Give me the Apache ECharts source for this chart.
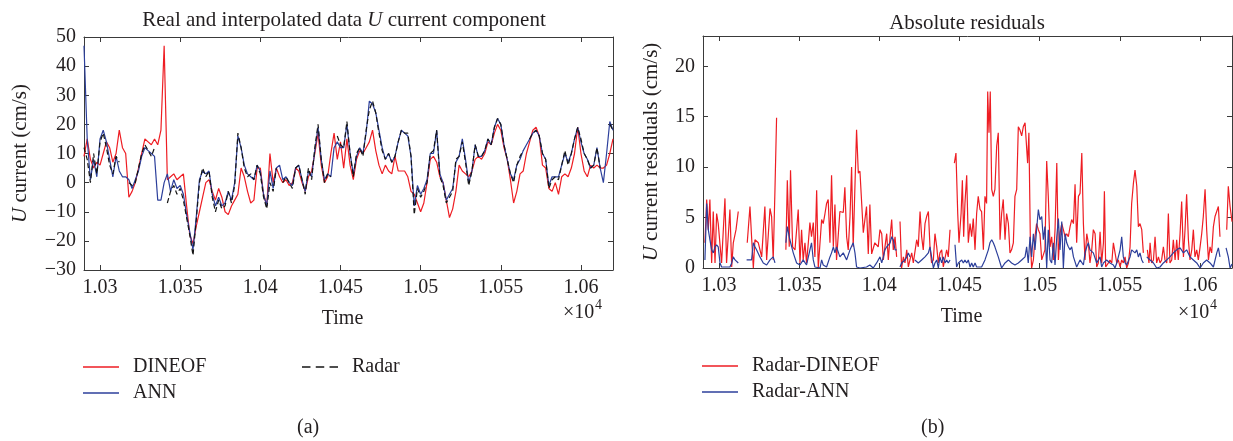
<!DOCTYPE html>
<html>
<head>
<meta charset="utf-8">
<title>U current component</title>
<script src="https://cdn.jsdelivr.net/npm/echarts@6/dist/echarts.min.js"></script>
<style>
  html, body { margin: 0; padding: 0; background: #ffffff; }
  #chart { width: 1233px; height: 441px; }
</style>
</head>
<body>
<div id="chart"></div>
<script>
// Sampling of the left panel: one value every 2 time units from T_START
const T_START = 10290;
const T_STEP = 2;
const T_MIN = 10290;
const T_MAX = 10620;

const xTickValues = [10300, 10350, 10400, 10450, 10500, 10550, 10600];
const xTickLabels = ['1.03', '1.035', '1.04', '1.045', '1.05', '1.055', '1.06'];

// U current (cm/s); null = radar gap
const radar = [
  12, 8, 0, 10, 3, 14, 17, 12, 6, 3, 9, 7, null, null, 0, -1, 0, 5, 10, 13,
  11, 9, 12, null, null, null, -7, -3, -1, -4, -2, -6, -12, -18, -25, -13, 0, 5, 2, 4,
  -5, -10, -6, -9, -8, -3, -7, -1, 17, 12, 5, 2, 3, 1, 6, 3, -5, -9, 0, -3,
  5, null, 0, 2, 0, -2, 5, 6, 1, -4, 5, 1, 12, 20, 8, 0, 3, 2, null, 16,
  13, 12, 21, 10, 2, 10, 12, 9, 18, 25, 28, 24, 17, 11, 8, 10, 7, 9, 14, 18,
  17, 17, 9, -11, -2, -5, -3, 0, 10, 11, 18, 2, -1, -7, -5, -3, 8, 9, 14, 7,
  -1, 4, 13, 9, 9, 11, 15, 13, 19, 22, 20, 13, 8, 3, 0, 6, 9, 11, null, 15,
  17, 18, 16, 10, 8, -2, 1, 2, 1, 6, 11, 6, 10, 15, 19, 15, 10, 8, 5, 6,
  12, 5, null, null, 20, 18
];
const ann = [
  47, 15, 1, 8, 2, 15, 18, 14, 8, 2, 9, 4, 2, 2, 1, -2, 1, 4, 9, 12,
  11, 10, 9, -6, -6, 0, 3, -3, 1, -2, -1, -4, -11, -17, -23, -12, 1, 4, 3, 4,
  -4, -8, -5, -8, -7, -3, -6, 0, 16, 12, 6, 3, 2, 1, 6, 4, -4, -8, 4, -2,
  5, 6, 1, 2, 0, -1, 5, 6, 1, -3, 4, 2, 11, 19, 8, 1, 3, 2, 12, 14,
  12, 12, 20, 10, 3, 9, 12, 10, 17, 28, 27, 24, 18, 12, 8, 10, 7, 9, 14, 18,
  17, 16, 9, -8, -1, -4, -2, 1, 10, 10, 18, 3, 0, -6, -4, -2, 7, 9, 15, 8,
  0, 4, 13, 9, 9, 11, 15, 13, 19, 22, 20, 13, 8, 3, 1, 6, 8, 11, 13, 15,
  17, 18, 16, 10, 8, -1, 2, 2, 2, 6, 10, 7, 10, 15, 19, 14, 10, 8, 5, 6,
  12, 5, 0, 10, 21, 18
];
const dineof = [
  9, 15, 8, 5, 7, 6, 10, 14, 12, 7, 10, 18, 12, 10, -5, -3, 0, 5, 10, 15,
  14, 13, 15, 13, 18, 47, 1, 2, 3, 1, 2, 3, -8, -18, -21, -15, -10, -5, 0, 1,
  -3, -6, -2, -5, -10, -11, -8, -6, -4, 5, 2, -3, -7, -6, 5, 5, -4, -8, 10, 0,
  5, 2, 0, 1, -1, 0, 5, 4, 0, -3, 2, 4, 10, 17, 6, 0, 2, 10, 17, 8,
  14, 5, 15, 6, 1, 8, 11, 10, 12, 14, 18, 11, 6, 3, 6, 4, 3, 9, 4, 4,
  4, 2, -3, -4, -7, -10, -7, 0, 8, 9, 7, 2, 0, -6, -12, -9, -3, 6, 4, 3,
  2, 4, 8, 9, 8, 10, 14, 13, 17, 20, 18, 12, 8, 1, -7, -3, 3, 4, 10, 14,
  18, 19, 16, 6, 5, -2, -3, 0, -4, 2, 3, 2, 5, 10, 19, 10, 4, 2, 6, 5,
  6, 5, 5, 6, 10, 15
];

// Absolute residuals (cm/s) as [time, value]; null = no radar data
const resDineof = [
  [10291.2, 2.5], [10292.3, 6.8], [10293.3, 3.8], [10294.3, 6.8], [10295.4, 0.5], [10296.4, 5.6],
  [10297.5, 0.5], [10298.5, 5.4], [10299.5, 4.4], [10300.6, 4.4], [10301.6, 0.5], [10303.7, 6.9],
  [10304.7, 0.5], [10306.8, 5.8], [10307.9, 0.1], [10308.9, 2.5], [10310.6, 3.8], [10312.0, 5.6],
  [10314.5, null],
  [10317.6, 2.5], [10319.3, 6.1], [10320.3, 3.1], [10321.4, 0], [10322.4, 2.8], [10324.5, 2.5],
  [10326.6, 1.1], [10328.6, 6.1], [10329.7, 0.8], [10331.8, 5.9], [10332.8, 5.1], [10333.8, 0.8],
  [10334.9, 7.8], [10335.9, 14.9],
  [10339.0, null],
  [10341.7, 1.8], [10342.6, 8.7], [10343.8, 2.1], [10344.6, 9.7], [10345.9, 2.1], [10347.4, 1.8],
  [10349.4, 5.8], [10350.5, 0.5], [10351.5, 3.8], [10352.5, 0.8], [10353.6, 2.5], [10354.6, 0.5],
  [10355.7, 2.5], [10356.7, 4.5], [10357.7, 3.1], [10358.8, 4.5], [10359.8, 1.1], [10360.9, 7.7],
  [10361.9, 0], [10364.0, 4.8], [10365.0, 4.4], [10366.1, 5.4], [10367.1, 6.4], [10368.1, 6.8],
  [10369.2, 2.5], [10370.2, 9.2], [10371.3, 2.1], [10372.3, 6.3], [10373.3, 0.8], [10374.4, 0.8],
  [10375.4, 5.6], [10377.5, 5.5], [10378.5, 8.0], [10379.6, 3.1], [10380.6, 1.8], [10381.7, 5.1],
  [10382.7, 10.0], [10383.7, 2.1], [10385.8, 13.7], [10386.9, 9.4], [10387.9, 9.6], [10390.0, 3.5],
  [10391.0, 3.6], [10392.0, 6.1], [10393.1, 1.4], [10394.1, 6.3], [10395.2, 1.4], [10397.2, 2.5],
  [10399.3, 2.1], [10400.4, 3.8], [10401.5, 3.4], [10402.5, 0.8], [10403.5, 2.1], [10404.6, 3.4],
  [10405.6, 0.8], [10406.7, 3.1], [10407.7, 4.8], [10408.7, 1.8], [10409.8, 3.1], [10410.8, 1.1],
  [10411.8, null],
  [10412.9, 4.6], [10413.9, 0], [10415.0, 1.1], [10416.0, 0.5], [10417.1, 1.8], [10418.1, 0.1],
  [10419.1, 0.8], [10420.2, 1.5], [10421.2, 0.5], [10422.2, 0.5], [10423.3, 2.8], [10424.3, 2.1],
  [10425.4, 5.6], [10426.4, 3.1], [10427.4, 1.8], [10428.5, 4.4], [10429.5, 5.1], [10430.6, 5.6],
  [10431.6, 2.1], [10432.6, 0.5], [10433.7, 0.8], [10434.7, 3.4], [10435.8, 2.1], [10436.8, 0.5],
  [10437.8, 1.5], [10438.9, 1.8], [10439.9, 0.1], [10441.0, 0], [10442.0, 1.8], [10443.0, 1.1],
  [10444.1, 3.8],
  [10445.5, null],
  [10446.8, 10.4], [10447.8, 11.4], [10448.9, 5.4], [10449.7, 2.5], [10451.0, 5.4], [10451.8, 8.7],
  [10452.6, 3.1], [10453.4, 6.4], [10454.5, 9.2], [10455.5, 2.5], [10456.6, 4.4], [10457.6, 3.1],
  [10458.6, 4.9], [10459.7, 1.8], [10460.7, 5.4], [10461.7, 7.1], [10462.8, 5.8], [10463.8, 5.6],
  [10464.9, 1.8], [10465.9, 7.1], [10466.9, 6.4], [10467.6, 17.5], [10468.4, 13.4], [10469.2, 17.5],
  [10470.1, 7.8], [10471.1, 7.1], [10472.1, 7.8], [10473.2, 12.1], [10474.2, 13.4], [10475.3, 2.8],
  [10476.3, 5.4], [10477.3, 6.8], [10478.4, 2.8], [10479.4, 5.4], [10480.5, 4.4], [10481.5, 1.5],
  [10482.5, 1.8], [10483.6, 2.5], [10484.6, 7.1], [10485.7, 7.8], [10486.7, 14.0], [10487.7, 13.7],
  [10488.8, 13.1], [10489.8, 14.0], [10490.9, 14.4], [10491.9, 14.4], [10492.5, 10.4], [10493.3, 13.4],
  [10494.2, 2.8], [10495.0, 0], [10496.1, 0.8], [10497.1, 3.1], [10498.1, 4.4], [10499.2, 3.8],
  [10500.2, 3.4], [10501.3, 0.8], [10502.3, 0.8], [10503.3, 1.8], [10504.4, 10.6], [10505.4, 7.1],
  [10506.5, 2.1], [10507.5, 3.1], [10508.6, 0.8], [10509.6, 3.8], [10510.7, 10.4], [10511.7, 0.8],
  [10512.7, 3.4], [10513.8, 4.4], [10514.8, 3.8], [10515.9, 3.1], [10516.9, 3.4], [10517.9, 3.1],
  [10519.0, 4.1], [10520.0, 4.8], [10521.1, 4.4], [10522.1, 8.3], [10523.1, 2.5], [10524.2, 7.1],
  [10525.2, 7.4], [10526.3, 11.4], [10527.3, 4.4], [10528.3, 0.8], [10529.4, 3.4], [10530.4, 2.5],
  [10531.4, 0.5], [10532.5, 1.8], [10533.5, 3.8], [10534.6, 3.4], [10535.6, 0.1], [10536.6, 0.5],
  [10537.7, 3.6], [10538.7, 0.5], [10539.8, 2.5], [10540.4, 7.6], [10541.2, 0.1], [10542.9, 0.5],
  [10543.9, 0.8], [10545.0, 0.5], [10546.0, 2.5], [10547.0, 2.5], [10548.1, 0.5], [10549.1, 0.8],
  [10550.2, 0.1], [10551.2, 0.8], [10552.2, 0.5], [10553.3, 1.1], [10554.3, 0], [10555.4, 0.5],
  [10556.4, 2.1], [10557.4, 6.4], [10558.5, 8.4], [10559.5, 9.7], [10560.6, 8.1], [10561.6, 4.1],
  [10562.6, 4.4], [10563.7, 3.8], [10564.7, 1.5],
  [10565.8, null],
  [10567.2, 1.8], [10568.2, 0.5], [10568.9, 2.5], [10569.9, 0.5], [10571.0, 0.8], [10572.0, 3.1],
  [10573.0, 0.5], [10574.1, 1.1], [10575.1, 0.5], [10576.1, 0.8], [10577.2, 2.1], [10578.2, 0.8],
  [10579.3, 0.5], [10580.3, 5.4], [10581.3, 0.5], [10582.4, 0.8], [10583.4, 2.8], [10584.5, 0.8],
  [10585.5, 2.8], [10586.5, 0.8], [10587.6, 3.4], [10588.6, 6.6], [10589.7, 1.1], [10590.7, 3.8],
  [10591.7, 7.3], [10592.8, 2.8], [10593.8, 0.8], [10594.9, 1.8], [10595.9, 3.8], [10596.9, 1.1],
  [10598.0, 1.8], [10599.0, 0.8], [10600.1, 2.1], [10601.1, 3.4], [10602.1, 5.1], [10603.2, 7.8],
  [10604.2, 3.8], [10605.3, 0.8], [10606.3, 2.1], [10607.3, 1.5], [10608.4, 4.1], [10609.4, 5.1],
  [10610.5, 5.1], [10611.5, 6.1], [10612.5, 3.1],
  [10614.5, null],
  [10616.7, 3.8], [10617.7, 8.1], [10618.8, 6.1], [10620.0, 4.6]
];
const resAnn = [
  [10291.2, 0.8], [10292.3, 6.4], [10293.3, 3.8], [10294.3, 2.8], [10295.4, 1.8], [10296.4, 1.5],
  [10297.5, 2.1], [10298.5, 2.3], [10299.5, 2.1], [10300.6, 0.5], [10301.6, 0.1], [10302.7, 0],
  [10304.7, 0.1], [10306.8, 0.1], [10307.9, 0.5], [10308.9, 1.1], [10310.0, 0.8], [10311.0, 0.8],
  [10312.0, 0.5],
  [10314.5, null],
  [10317.2, 0.8], [10320.3, 0.8], [10321.4, 2.5], [10322.4, 2.1], [10323.4, 1.8], [10325.5, 1.1],
  [10327.6, 0.5], [10329.7, 0.3], [10331.8, 0.8], [10333.8, 1.1], [10334.9, 0.5],
  [10339.0, null],
  [10341.7, 2.5], [10342.6, 4.1], [10344.2, 2.8], [10346.3, 1.5], [10348.4, 0.5], [10350.5, 0.3],
  [10352.5, 0.8], [10354.6, 0.3], [10356.7, 1.8], [10357.7, 2.5], [10358.8, 0.8], [10359.8, 0.1],
  [10363.0, 0], [10364.0, 0.8], [10365.0, 0.3], [10367.1, 0.1], [10369.2, 1.1], [10370.2, 1.5],
  [10371.3, 2.1], [10372.3, 1.5], [10373.3, 2.1], [10375.4, 1.1], [10377.5, 1.5], [10379.6, 0.8],
  [10381.7, 1.8], [10383.7, 2.5], [10384.8, 1.5], [10385.8, 0.1], [10387.9, 0], [10392.0, 0.1],
  [10394.1, 0.3], [10396.2, 0], [10398.3, 0.5], [10400.4, 1.1], [10401.5, 0.5], [10402.5, 1.1],
  [10403.5, 1.8], [10404.6, 2.1], [10405.6, 2.1], [10406.7, 2.5], [10407.7, 3.1], [10408.7, 2.8],
  [10409.8, 1.8], [10410.8, 1.8],
  [10411.8, null],
  [10412.9, 0.1], [10413.9, 0.5], [10415.0, 0.5], [10416.0, 0.8], [10417.1, 1.1], [10418.1, 1.5],
  [10419.1, 1.1],
  [10420.7, null],
  [10422.2, 0.8], [10424.3, 0.5], [10426.4, 0.8], [10428.5, 1.1], [10430.6, 1.5], [10431.6, 2.1],
  [10432.6, 1.1], [10433.7, 0], [10434.7, 0.5], [10435.8, 0.8], [10436.8, 0], [10437.8, 1.1],
  [10438.9, 0.5], [10439.9, 1.1], [10441.0, 0.5], [10442.0, 0.8], [10443.0, 0.5], [10444.1, 0.8],
  [10445.5, null],
  [10447.2, 2.3], [10448.2, 0.1], [10449.3, 0.5], [10451.4, 0.8], [10452.4, 0.5], [10453.4, 0.8],
  [10454.5, 0.5], [10455.5, 0.8], [10456.6, 0.1], [10457.6, 0.5], [10458.6, 0.1], [10459.7, 0.5],
  [10460.7, 0.1], [10461.7, 0], [10463.8, 0.1], [10465.9, 0.8], [10468.0, 1.8], [10469.0, 2.5],
  [10470.1, 2.8], [10471.1, 2.5], [10472.1, 2.1], [10474.2, 1.1], [10476.3, 0], [10478.4, 0.5],
  [10480.5, 0.8], [10482.5, 0.5], [10484.6, 0.3], [10486.7, 0.5], [10488.8, 0.8], [10490.9, 1.1],
  [10491.9, 2.1], [10492.9, 0.5], [10494.0, 3.1], [10495.0, 1.1], [10496.1, 3.4], [10497.1, 1.8],
  [10498.1, 3.8], [10499.2, 5.8], [10500.2, 4.8], [10501.3, 5.1], [10502.3, 2.8], [10503.3, 4.1],
  [10504.4, 0], [10505.4, 3.8], [10506.5, 0.8], [10507.5, 0.5], [10508.6, 2.5], [10509.6, 0.3],
  [10510.7, 3.1], [10511.7, 4.9], [10512.7, 1.8], [10513.8, 4.6], [10514.8, 0], [10515.9, 3.4],
  [10516.9, 2.5], [10517.9, 2.1], [10519.0, 1.8], [10520.0, 2.1], [10521.1, 1.1], [10523.1, 0.1],
  [10525.2, 0.8], [10527.3, 0.3], [10528.3, 1.5], [10529.4, 2.1], [10530.4, 2.5], [10531.4, 1.8],
  [10533.5, 1.5], [10535.6, 0.5], [10537.7, 1.1], [10538.7, 0.1], [10539.8, 0.5], [10541.8, 0.8],
  [10543.9, 0.5], [10546.0, 0.3], [10547.0, 0], [10548.1, 0.5], [10549.1, 1.1], [10550.2, 1.8],
  [10551.2, 3.1], [10552.2, 1.1], [10553.3, 0.5], [10554.3, 0.3], [10556.4, 1.1], [10557.4, 1.8],
  [10558.5, 1.8], [10559.5, 1.5], [10560.6, 1.8], [10561.6, 1.1], [10562.6, 1.5], [10563.7, 0.8],
  [10564.7, 0.5],
  [10565.8, null],
  [10566.8, 1.1], [10568.9, 0.8], [10571.0, 0.5], [10573.0, 0], [10575.1, 0.1], [10577.2, 0.5],
  [10579.3, 0.8], [10581.3, 1.1], [10583.4, 1.5], [10585.5, 1.8], [10587.6, 2.0], [10589.7, 1.5],
  [10591.7, 1.8], [10593.8, 1.1], [10595.9, 0.8], [10598.0, 0.5], [10600.1, 0], [10602.1, 0.5],
  [10604.2, 0.8], [10606.3, 0.5], [10608.4, 0.1], [10610.5, 1.5], [10611.5, 2.0], [10612.5, 1.1],
  [10614.5, null],
  [10616.3, 2.0], [10617.7, 1.1], [10618.8, 0], [10620.0, 0.4]
];

const FONT = '"Liberation Serif", "DejaVu Serif", serif';
const TEXT = '#231f20';
const AXIS = '#3a3a3a';
const RED = '#ee1d23';
const BLUE = '#2c3f9b';
const BLACK = '#141414';

// Legend keys: a plain stroke and a three-dash stroke
const ICON_SOLID = 'path://M0,0h36v1.4H0z';
const ICON_DASHED = 'path://M0,0h8v1.4H0z M13,0h8v1.4h-8z M26,0h8v1.4h-8z';

const toPairs = (vals) => vals.map((v, i) => [T_START + i * T_STEP, v]);
const minus = (v) => String(v).replace('-', '\u2212');

const baseText = { fontFamily: FONT, fontSize: 20, color: TEXT };
const nameText = { fontFamily: FONT, fontSize: 21, color: TEXT };

function bottomAxis(grid) {
  return {
    type: 'value', gridIndex: grid, position: 'bottom', min: T_MIN, max: T_MAX,
    axisLine: { show: true, onZero: false, lineStyle: { color: AXIS, width: 1 } },
    axisTick: { show: true, inside: true, length: 5, customValues: xTickValues, lineStyle: { color: AXIS } },
    axisLabel: {
      customValues: xTickValues, margin: 8, ...baseText,
      formatter: (v) => xTickLabels[xTickValues.indexOf(v)]
    },
    splitLine: { show: false },
    name: 'Time', nameLocation: 'middle', nameGap: 39,
    nameTextStyle: { ...baseText, padding: [0, 12, 0, 0] }
  };
}
function topAxis(grid) {
  return {
    type: 'value', gridIndex: grid, position: 'top', min: T_MIN, max: T_MAX,
    axisLine: { show: true, onZero: false, lineStyle: { color: AXIS, width: 1 } },
    axisTick: { show: true, inside: true, length: 5, customValues: xTickValues, lineStyle: { color: AXIS } },
    axisLabel: { show: false },
    splitLine: { show: false }
  };
}
function leftAxis(grid, min, max, step, name, gap) {
  return {
    type: 'value', gridIndex: grid, position: 'left', min: min, max: max, interval: step,
    axisLine: { show: true, onZero: false, lineStyle: { color: AXIS, width: 1 } },
    axisTick: { show: true, inside: true, length: 5, lineStyle: { color: AXIS } },
    axisLabel: { margin: 8, ...baseText, formatter: minus, showMaxLabel: false },
    splitLine: { show: false },
    name: name, nameLocation: 'middle', nameGap: gap, nameRotate: 90,
    nameTextStyle: { ...nameText, rich: { i: { ...nameText, fontStyle: 'italic' } } }
  };
}
function rightAxis(grid, min, max, step) {
  return {
    type: 'value', gridIndex: grid, position: 'right', min: min, max: max, interval: step,
    axisLine: { show: true, onZero: false, lineStyle: { color: AXIS, width: 1 } },
    axisTick: { show: true, inside: true, length: 5, lineStyle: { color: AXIS } },
    axisLabel: { show: false },
    splitLine: { show: false }
  };
}

const leftY = leftAxis(0, -30, 50, 10, '{i|U} current (cm/s)', 53);
leftY.axisLabel.showMaxLabel = true;
const rightY = leftAxis(1, 0, 23, 5, '{i|U} current residuals (cm/s)', 41);

function lineSeries(name, data, color, xi, yi, dashed, z) {
  return {
    name: name, type: 'line', xAxisIndex: xi, yAxisIndex: yi, data: data,
    symbol: 'none', showSymbol: false, connectNulls: false, animation: false, z: z,
    lineStyle: { color: color, width: 1.2, type: dashed ? [5, 3] : 'solid' },
    itemStyle: { color: color }
  };
}

const legendText = { ...baseText, padding: [0, 0, 0, 9] };
const legendBase = {
  orient: 'vertical', padding: 0, itemWidth: 36, itemHeight: 20, itemGap: 6,
  selectedMode: false, textStyle: legendText
};

const option = {
  backgroundColor: '#ffffff',
  animation: false,
  title: [
    {
      text: 'Real and interpolated data {i|U} current component',
      left: 339, top: 5, textAlign: 'center',
      textStyle: { fontFamily: FONT, fontSize: 21, color: TEXT, fontWeight: 'normal',
        rich: { i: { fontFamily: FONT, fontSize: 21, color: TEXT, fontStyle: 'italic' } } }
    },
    {
      text: 'Absolute residuals',
      left: 962, top: 8, textAlign: 'center',
      textStyle: { fontFamily: FONT, fontSize: 21, color: TEXT, fontWeight: 'normal' }
    }
  ],
  grid: [
    { left: 84, top: 37, width: 529, height: 233, containLabel: false },
    { left: 703, top: 36, width: 529, height: 232, containLabel: false }
  ],
  xAxis: [bottomAxis(0), topAxis(0), bottomAxis(1), topAxis(1)],
  yAxis: [leftY, rightAxis(0, -30, 50, 10), rightY, rightAxis(1, 0, 23, 5)],
  legend: [
    {
      ...legendBase, left: 83, top: 357,
      data: [{ name: 'DINEOF', icon: ICON_SOLID }, { name: 'ANN', icon: ICON_SOLID }]
    },
    {
      ...legendBase, left: 302, top: 357,
      data: [{ name: 'Radar', icon: ICON_DASHED }]
    },
    {
      ...legendBase, left: 702, top: 356,
      data: [{ name: 'Radar-DINEOF', icon: ICON_SOLID }, { name: 'Radar-ANN', icon: ICON_SOLID }]
    }
  ],
  series: [
    lineSeries('DINEOF', toPairs(dineof), RED, 0, 0, false, 2),
    lineSeries('ANN', toPairs(ann), BLUE, 0, 0, false, 3),
    lineSeries('Radar', toPairs(radar), BLACK, 0, 0, true, 4),
    lineSeries('Radar-DINEOF', resDineof, RED, 2, 2, false, 2),
    lineSeries('Radar-ANN', resAnn, BLUE, 2, 2, false, 3)
  ],
  graphic: [
    { type: 'text', left: 563, top: 303, style: { text: '\u00d710', font: '20px ' + FONT, fill: TEXT } },
    { type: 'text', left: 595, top: 298, style: { text: '4', font: '14px ' + FONT, fill: TEXT } },
    { type: 'text', left: 1178, top: 303, style: { text: '\u00d710', font: '20px ' + FONT, fill: TEXT } },
    { type: 'text', left: 1210, top: 298, style: { text: '4', font: '14px ' + FONT, fill: TEXT } },
    { type: 'text', left: 297, top: 418, style: { text: '(a)', font: '20px ' + FONT, fill: TEXT } },
    { type: 'text', left: 921, top: 418, style: { text: '(b)', font: '20px ' + FONT, fill: TEXT } }
  ]
};

const chart = echarts.init(document.getElementById('chart'), null, { renderer: 'canvas' });
chart.setOption(option);
</script>
</body>
</html>
